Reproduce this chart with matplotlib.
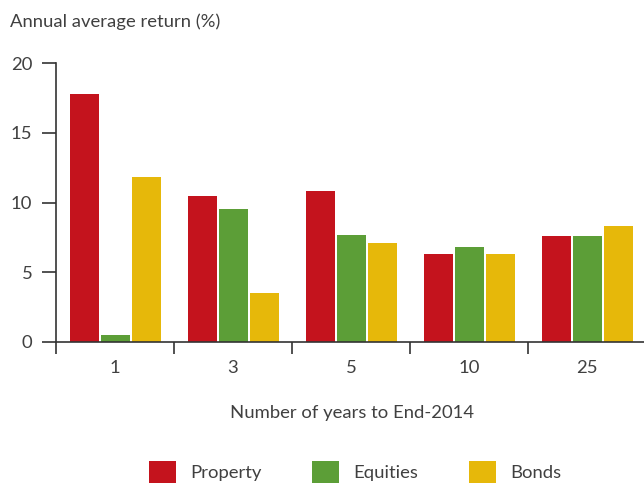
import matplotlib
matplotlib.use("Agg")
import matplotlib.pyplot as plt
from matplotlib.patches import Patch
import numpy as np

categories = ["1", "3", "5", "10", "25"]
series_names = ["Property", "Equities", "Bonds"]
property_vals = [17.8, 10.5, 10.8, 6.3, 7.6]
equities_vals = [0.5, 9.5, 7.7, 6.8, 7.6]
bonds_vals = [11.8, 3.5, 7.1, 6.3, 8.3]
colors = ["#C4131D", "#5C9E37", "#E6B80A"]
yticks = [0, 5, 10, 15, 20]

plt.rcParams['font.family'] = ['Lato', 'DejaVu Sans']
text_color = "#404040"
fw = 'normal'
fs = 13.3

fig = plt.figure(figsize=(6.44, 4.83), dpi=100)
ax = fig.add_axes([56/644, 141/483, 590/644, 279/483])

x = np.arange(len(categories))
pitch = 31/118
width = 29/118
for i, (vals, c) in enumerate(zip([property_vals, equities_vals, bonds_vals], colors)):
    ax.bar(x + (i - 1) * pitch, vals, width=width, color=c, linewidth=0, zorder=2)

ax.set_xlim(-0.5, 4.5)
ax.set_ylim(0, 20)
ax.set_yticks(yticks)
ax.set_yticklabels([str(v) for v in yticks], fontsize=fs, color=text_color, fontweight=fw)
ax.set_xticks(x)
ax.set_xticklabels(categories, fontsize=fs, color=text_color, fontweight=fw)
ax.set_xticks(np.arange(-0.5, 5.0, 1.0), minor=True)
ax.tick_params(axis='x', which='major', length=0, pad=13)
ax.tick_params(axis='x', which='minor', length=8.6, width=1.2, color="#333333", direction='out')
ax.tick_params(axis='y', which='major', length=10, width=1.2, color="#333333", pad=7, direction='out')

for s in ['top', 'right']:
    ax.spines[s].set_visible(False)
for s in ['left', 'bottom']:
    ax.spines[s].set_color("#333333")
    ax.spines[s].set_linewidth(1.2)

fig.text(10/644, 1 - 22/483, "Annual average return (%)", fontsize=fs, color=text_color,
         fontweight=fw, ha='left', va='center')
fig.text(352/644, 1 - 413/483, "Number of years to End-2014", fontsize=fs, color=text_color,
         fontweight=fw, ha='center', va='center')

handles = [Patch(facecolor=c, edgecolor='none', label=n) for c, n in zip(colors, series_names)]
leg = fig.legend(handles=handles, loc='center', bbox_to_anchor=(355/644, 1 - 472/483), ncol=3,
                 frameon=False, fontsize=fs, handlelength=1.46, handleheight=1.46,
                 handletextpad=0.76, columnspacing=2.75, borderaxespad=0, borderpad=0)
for t in leg.get_texts():
    t.set_color(text_color)
    t.set_fontweight(fw)

fig.savefig("out.png", dpi=100)
